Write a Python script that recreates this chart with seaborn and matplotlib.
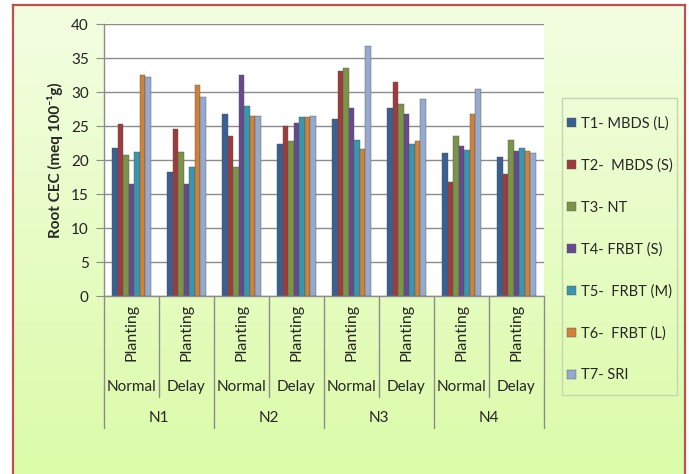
import numpy as np
import pandas as pd
import seaborn as sns
import matplotlib.pyplot as plt
from matplotlib.lines import Line2D
from matplotlib.patches import Rectangle

# values
levels = ['N1', 'N2', 'N3', 'N4']
planting = ['Normal', 'Delay']
treatments = ['T1- MBDS (L)', 'T2-  MBDS (S)', 'T3- NT', 'T4- FRBT (S)',
              'T5-  FRBT (M)', 'T6-  FRBT (L)', 'T7- SRI']

t1 = [21.7, 18.3, 26.7, 22.3, 26.0, 27.6, 21.0, 20.5]
t2 = [25.3, 24.5, 23.5, 25.0, 33.1, 31.5, 16.7, 18.0]
t3 = [20.7, 21.2, 19.0, 22.8, 33.6, 28.3, 23.5, 23.0]
t4 = [16.5, 16.5, 32.5, 25.5, 27.6, 26.7, 22.0, 21.3]
t5 = [21.2, 19.0, 28.0, 26.3, 23.0, 22.3, 21.5, 21.7]
t6 = [32.5, 31.0, 26.5, 26.3, 21.6, 22.8, 26.7, 21.3]
t7 = [32.2, 29.2, 26.5, 26.5, 36.8, 29.0, 30.5, 21.0]

colors = ['#2b5f9e', '#b02a2a', '#7ea23a', '#653f98', '#27a1c0', '#e8821f', '#8ba7d8']

groups = [n + ' ' + p for n in levels for p in planting]
series = [t1, t2, t3, t4, t5, t6, t7]
df = pd.DataFrame({
    'group': np.tile(groups, len(treatments)),
    'treatment': np.repeat(treatments, len(groups)),
    'cec': np.concatenate(series),
})

sns.set_style('white')
plt.rcParams['font.family'] = ['Lato', 'DejaVu Sans']

fig = plt.figure(figsize=(6.89, 4.74), dpi=100)
W, H = 689, 474

# chart area background: light green gradient with red frame
bg = fig.add_axes([13 / W, 0, (685 - 13) / W, 1 - 5 / H], zorder=-5)
grad = np.linspace(0, 1, 256).reshape(-1, 1)
top_c = np.array([0.955, 0.995, 0.885])
bot_c = np.array([0.86, 0.985, 0.66])
img = top_c * (1 - grad[..., None]) + bot_c * grad[..., None]
bg.imshow(img, aspect='auto', extent=[0, 1, 0, 1])
bg.set_xlim(0, 1)
bg.set_ylim(0, 1)
bg.set_xticks([])
bg.set_yticks([])
bg.spines['bottom'].set_visible(False)
for s in ['left', 'top', 'right']:
    bg.spines[s].set_color('#c0504d')
    bg.spines[s].set_linewidth(1.6)

ax = fig.add_axes([104 / W, 1 - 296 / H, (544 - 104) / W, (296 - 24) / H])
ax.set_facecolor('white')
sns.barplot(data=df, x='group', y='cec', hue='treatment', order=groups,
            hue_order=treatments, palette=colors, width=0.7, gap=0.05,
            edgecolor='#555555', linewidth=0.3, ax=ax, legend=True)

ax.set_ylim(0, 40)
ax.set_xlim(-0.5, len(groups) - 0.5)
ax.set_yticks(range(0, 41, 5))
ax.yaxis.grid(True, color='#8c8c8c', linewidth=1)
ax.set_axisbelow(True)
ax.tick_params(axis='y', which='both', left=True, length=6, color='#8c8c8c',
               labelsize=11, labelcolor='#222222', pad=5)
ax.set_xticks([])
ax.set_xlabel('')
ax.set_ylabel('Root CEC (meq 100\u207b\u00b9g)', fontsize=11, fontweight='bold',
              labelpad=6)
for s in ['top', 'right']:
    ax.spines[s].set_visible(False)
for s in ['left', 'bottom']:
    ax.spines[s].set_color('#8c8c8c')
    ax.spines[s].set_linewidth(1)

# multi-level category axis
tr = ax.get_xaxis_transform()
axh = 296 - 24
for i, g in enumerate(groups):
    ax.text(i, -36 / axh, 'Planting', rotation=90, ha='center', va='center',
            fontsize=11.5, transform=tr)
    ax.text(i, -91 / axh, planting[i % 2], ha='center', va='center',
            fontsize=11, transform=tr)
for j, n in enumerate(levels):
    ax.text(2 * j + 0.5, -122 / axh, n, ha='center', va='center',
            fontsize=11, transform=tr)
for k in range(len(groups) + 1):
    depth = -132 / axh if k % 2 == 0 else -101 / axh
    ax.add_line(Line2D([k - 0.5, k - 0.5], [0, depth], color='#8c8c8c',
                       linewidth=1, transform=tr, clip_on=False))

# legend with its own frame
fig.patches.append(Rectangle((562 / W, 1 - 395 / H), (677 - 562) / W,
                             (395 - 98) / H, transform=fig.transFigure,
                             facecolor='none', edgecolor='#c5d6ae', linewidth=1))
leg = ax.legend(loc='center left', bbox_to_anchor=(567 / W, 1 - 249.5 / H),
                bbox_transform=fig.transFigure, frameon=False, fontsize=10.5,
                handlelength=0.6, handleheight=0.6, labelspacing=1.9,
                borderpad=0, handletextpad=0.35, borderaxespad=0)

fig.savefig('out.png', dpi=100)
